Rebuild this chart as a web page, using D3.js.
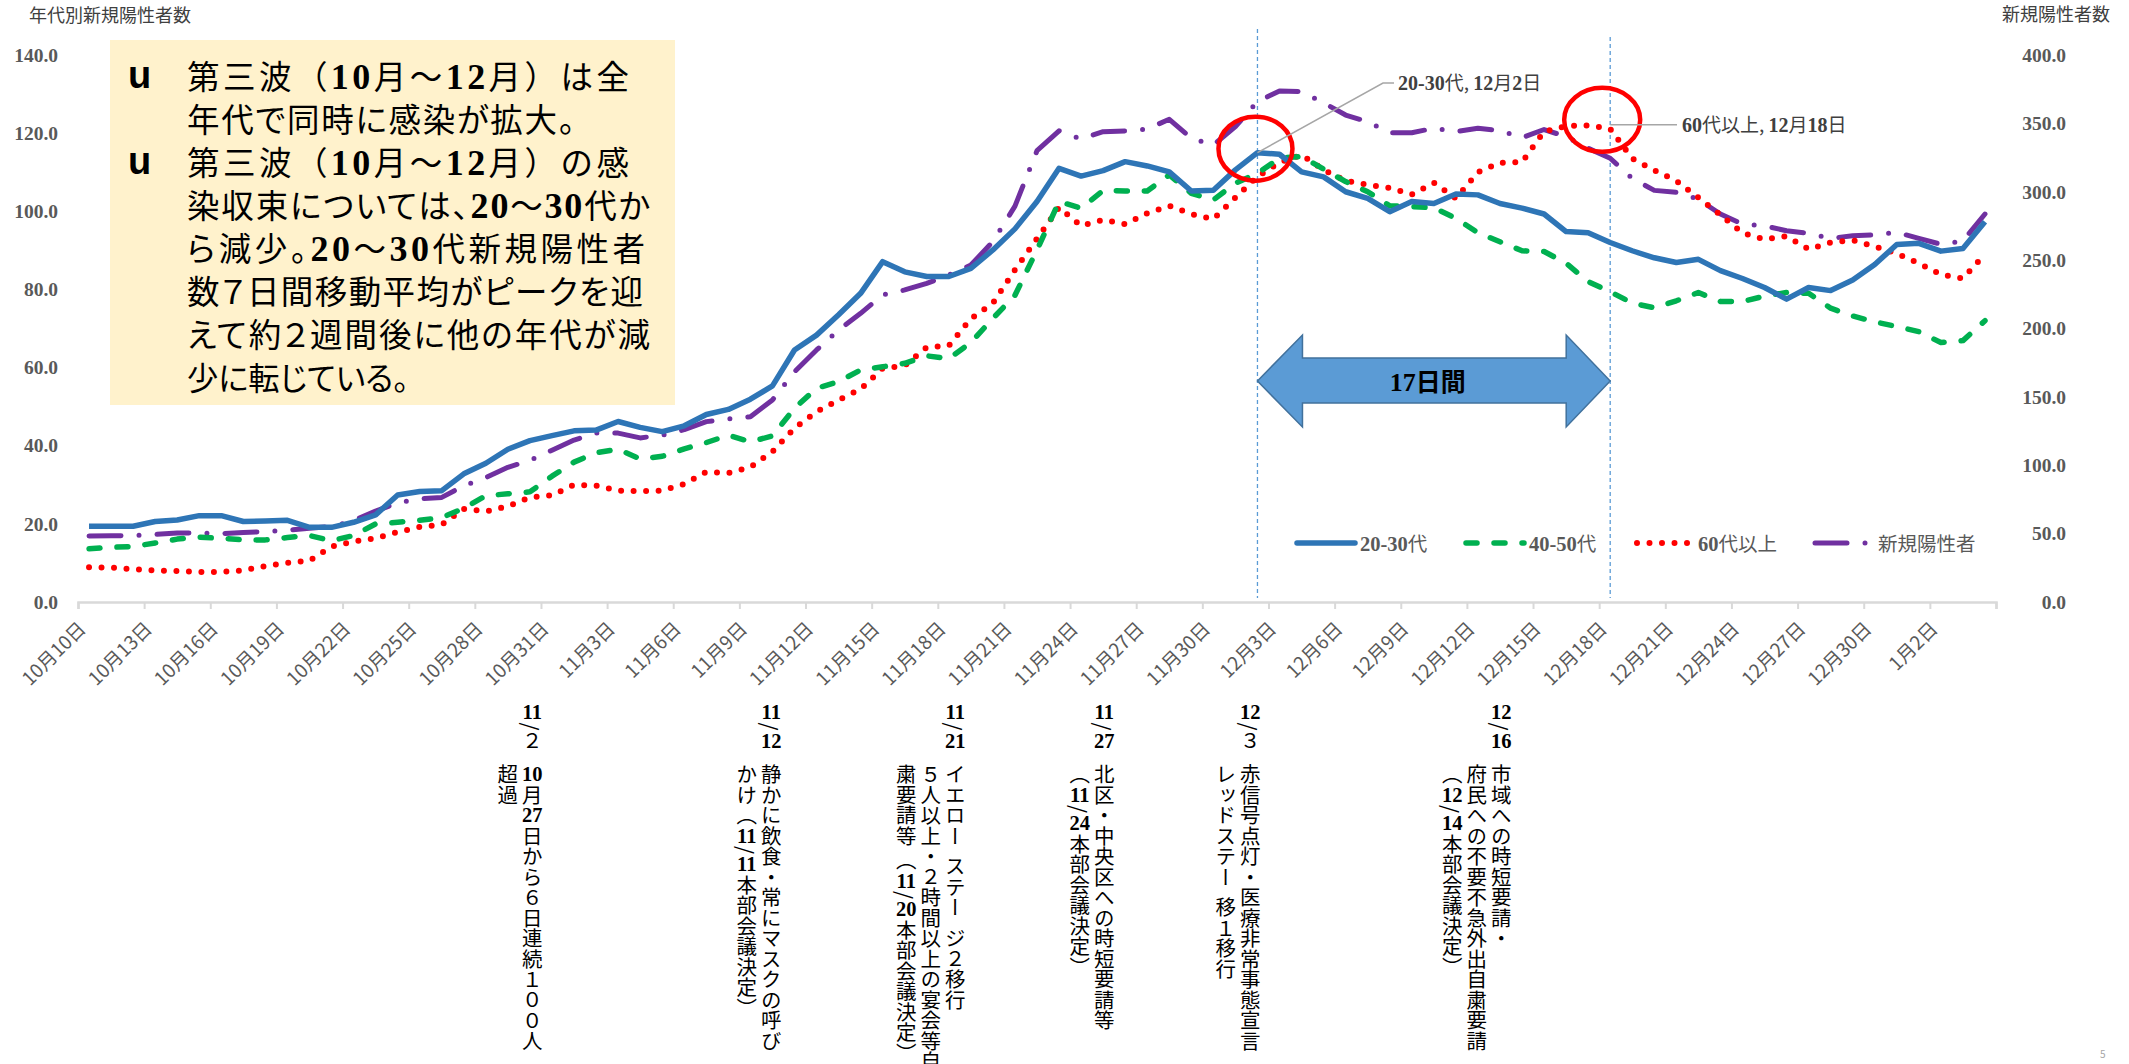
<!DOCTYPE html>
<html>
<head>
<meta charset="utf-8">
<script src="https://cdn.jsdelivr.net/npm/d3@7"></script>
<style>
  body { margin: 0; background: #fff; }
  #chart { position: relative; width: 2129px; height: 1064px; overflow: hidden; background: #fff; }
  .vnote { position: absolute; writing-mode: vertical-rl; font-family: "Noto Sans CJK JP", sans-serif;
           font-size: 20.5px; line-height: 24.5px; color: #000; white-space: pre; }
  .tcy { text-combine-upright: all; font-family: "Liberation Serif", serif; font-weight: bold; }
</style>
</head>
<body>
<div id="chart"></div>
<script>
// categories (7-day moving average, by day)
var days = [
  "10月10日","10月11日","10月12日","10月13日","10月14日","10月15日","10月16日","10月17日","10月18日","10月19日",
  "10月20日","10月21日","10月22日","10月23日","10月24日","10月25日","10月26日","10月27日","10月28日","10月29日",
  "10月30日","10月31日","11月1日","11月2日","11月3日","11月4日","11月5日","11月6日","11月7日","11月8日",
  "11月9日","11月10日","11月11日","11月12日","11月13日","11月14日","11月15日","11月16日","11月17日","11月18日",
  "11月19日","11月20日","11月21日","11月22日","11月23日","11月24日","11月25日","11月26日","11月27日","11月28日",
  "11月29日","11月30日","12月1日","12月2日","12月3日","12月4日","12月5日","12月6日","12月7日","12月8日",
  "12月9日","12月10日","12月11日","12月12日","12月13日","12月14日","12月15日","12月16日","12月17日","12月18日",
  "12月19日","12月20日","12月21日","12月22日","12月23日","12月24日","12月25日","12月26日","12月27日","12月28日",
  "12月29日","12月30日","12月31日","1月1日","1月2日","1月3日","1月4日"
];

var age2030 = [
  19.4,19.4,19.4,20.6,21.0,22.1,22.1,20.6,20.7,20.9,
  19.1,19.1,20.4,22.3,27.4,28.3,28.5,32.8,35.5,39.1,
  41.3,42.6,43.8,44.0,46.2,44.7,43.6,45.1,48.0,49.3,
  51.9,55.3,64.5,68.3,73.5,79.0,87.1,84.5,83.3,83.3,
  85.4,90.1,95.5,102.5,111.0,109.0,110.4,112.7,111.6,110.1,
  105.2,105.4,110.6,115.0,114.6,110.1,108.8,105.0,103.3,99.9,
  102.5,102.0,104.4,104.2,102.0,100.8,99.3,94.8,94.5,92.0,
  89.9,88.1,86.9,87.7,84.8,82.8,80.5,77.5,80.5,79.7,
  82.4,86.4,91.5,91.8,89.8,90.5,97.3
];
var age4050 = [
  13.6,14.0,14.2,15.1,16.1,16.6,16.3,15.9,15.9,16.5,
  17.0,15.7,17.0,20.0,20.4,20.9,21.6,24.0,27.2,27.7,
  28.2,32.2,35.8,38.2,39.1,36.6,37.3,39.2,40.8,42.7,
  41.0,42.5,49.6,54.7,56.4,59.4,60.2,61.1,63.0,62.3,
  66.4,72.6,78.5,90.1,102.5,100.8,105.3,105.2,105.2,109.3,
  104.6,102.9,107.2,109.7,113.6,114.0,110.8,107.6,105.0,101.4,
  101.2,100.9,98.2,94.5,92.2,89.9,89.7,86.7,82.0,79.4,
  76.5,75.3,77.1,79.2,76.9,76.9,78.3,79.2,79.0,75.2,
  73.2,71.7,70.5,69.2,66.4,66.9,72.0
];
var age60 = [
  8.9,8.8,8.4,8.1,7.9,7.7,7.7,8.1,9.2,10.0,
  10.6,14.2,15.5,16.3,17.9,19.2,19.8,23.8,23.2,24.5,
  26.8,27.3,30.0,29.8,28.5,28.4,28.5,30.2,33.3,33.0,
  34.5,38.5,44.5,48.7,51.7,54.5,59.8,60.5,65.2,65.6,
  72.5,76.5,85.0,93.0,101.0,96.3,97.8,96.7,99.5,101.4,
  99.3,98.0,103.5,108.9,112.5,114.4,110.6,107.8,106.8,106.0,
  104.3,107.3,103.3,110.0,112.4,112.6,120.4,121.8,122.0,121.1,
  113.5,110.5,107.8,103.5,99.1,94.5,92.8,93.6,90.3,92.0,
  92.6,91.0,89.2,86.7,83.8,82.8,89.0
];
var totalNew = [
  48.3,48.4,48.6,49.4,50.4,50.5,50.0,50.8,51.5,52.5,
  54.0,55.2,59.5,66.5,72.5,75.4,76.5,85.0,91.0,98.5,
  103.5,111.0,118.4,123.5,123.5,120.0,122.0,126.0,131.9,133.8,
  135.5,147.7,168.4,184.3,198.9,211.1,224.5,228.2,233.0,239.1,
  246.4,263.5,289.5,330.0,344.5,338.6,343.9,344.4,345.9,353.0,
  339.1,334.2,347.6,365.9,373.7,373.2,365.0,356.1,351.2,343.2,
  343.2,346.4,343.9,346.4,344.7,339.5,345.5,340.3,331.8,324.5,
  309.8,301.0,299.6,294.5,283.7,276.4,275.0,271.5,269.6,265.9,
  267.9,268.4,270.3,265.9,261.6,264.0,283.7
];

var seriesNames = ["20-30代", "40-50代", "60代以上", "新規陽性者"];
var leftTicks = [0, 20, 40, 60, 80, 100, 120, 140];
var rightTicks = [0, 50, 100, 150, 200, 250, 300, 350, 400];
var leftTitle = "年代別新規陽性者数";
var rightTitle = "新規陽性者数";

var boxLines = [
  "第三波（10月～12月）は全",
  "年代で同時に感染が拡大。",
  "第三波（10月～12月）の感",
  "染収束については、20～30代か",
  "ら減少。20～30代新規陽性者",
  "数７日間移動平均がピークを迎",
  "えて約２週間後に他の年代が減",
  "少に転じている。"
];
var bulletRows = [0, 2];

var peakLabels = ["20-30代, 12月2日", "60代以上, 12月18日"];
var spanLabel = "17日間";

var noteHeads = ["11/2", "11/12", "11/21", "11/27", "12/3", "12/16"];
var noteBodies = [
  ["10月27日から6日連続１００人", "超過"],
  ["静かに飲食・常にマスクの呼び", "かけ（11/11本部会議決定）"],
  ["イエロー\u2002ステー\u2002ジ2移行", "5人以上・2時間以上の宴会等自", "粛要請等\u2009（11/20本部会議決定）"],
  ["北区・中央区への時短要請等", "（11/24本部会議決定）"],
  ["赤信号点灯・医療非常事態宣言", "レッドステー\u2002移１移行"],
  ["市域への時短要請・", "府民への不要不急外出自粛要請", "（12/14本部会議決定）"]
];

// layout
var W = 2129, H = 1064;
var plotLeft = 78, plotRight = 1996, plotTop = 55, plotBottom = 602;
var noteX = [532, 771, 955, 1104, 1250, 1501];

var container = d3.select("#chart");
var svg = container.append("svg")
  .attr("width", W).attr("height", H)
  .style("position", "absolute").style("left", 0).style("top", 0);

var serif = '"Liberation Serif", serif';
var sans = '"Noto Sans CJK JP", sans-serif';

// append digit runs in bold serif, the rest in sans
function rich(sel, str, numSize, txtSize) {
  str.split(/([0-9][0-9.\-]*)/).filter(function (s) { return s.length; }).forEach(function (part) {
    var isNum = /^[0-9]/.test(part);
    sel.append("tspan")
      .attr("class", isNum ? "num" : "txt")
      .style("font-family", isNum ? serif : sans)
      .style("font-size", (isNum ? numSize : txtSize) + "px")
      .style("font-weight", isNum ? "bold" : "normal")
      .text(part);
  });
  return sel;
}

// scales
var x = d3.scalePoint().domain(days).range([plotLeft, plotRight]).padding(0.5);
var xb = d3.scaleLinear().domain([0, days.length]).range([plotLeft, plotRight]);
var yL = d3.scaleLinear().domain([0, 140]).range([plotBottom, plotTop]);
var yR = d3.scaleLinear().domain([0, 400]).range([plotBottom, plotTop]);

// axis titles
svg.append("text").attr("x", 29).attr("y", 22)
  .style("font-family", sans).style("font-size", "18px").attr("fill", "#404040")
  .text(leftTitle);
svg.append("text").attr("x", 2110).attr("y", 21).attr("text-anchor", "end")
  .style("font-family", sans).style("font-size", "18px").attr("fill", "#404040")
  .text(rightTitle);

// left axis
var gLeft = svg.append("g").attr("transform", "translate(58,0)")
  .call(d3.axisLeft(yL).tickValues(leftTicks).tickFormat(d3.format(".1f")).tickSize(0).tickPadding(0));
gLeft.select(".domain").remove();
gLeft.selectAll("text").style("font-family", serif).style("font-size", "19.5px")
  .style("font-weight", "bold").attr("fill", "#595959");

// right axis
var gRight = svg.append("g").attr("transform", "translate(2066,0)")
  .call(d3.axisRight(yR).tickValues(rightTicks).tickFormat(d3.format(".1f")).tickSize(0).tickPadding(0));
gRight.select(".domain").remove();
gRight.selectAll("text").attr("x", 0).attr("text-anchor", "end")
  .style("font-family", serif).style("font-size", "19.5px")
  .style("font-weight", "bold").attr("fill", "#595959");

// bottom axis
var gBottom = svg.append("g").attr("transform", "translate(0," + plotBottom + ")")
  .call(d3.axisBottom(xb).tickValues(d3.range(0, days.length + 1, 3)).tickSize(7).tickFormat(""));
gBottom.select(".domain").attr("stroke", "#D9D9D9").attr("stroke-width", 2.5);
gBottom.selectAll(".tick line").attr("stroke", "#D9D9D9").attr("stroke-width", 2);

svg.append("g").selectAll("text")
  .data(days.filter(function (d, i) { return i % 3 === 0; }))
  .enter().append("text")
  .attr("transform", function (d) { return "translate(" + (x(d) - 2) + ",630) rotate(-45)"; })
  .attr("text-anchor", "end")
  .style("font-family", sans).style("font-size", "19px").attr("fill", "#595959")
  .text(function (d) { return d; });

// vertical reference lines at the two peaks
var peakA = 53, peakB = 69;
[peakA, peakB].forEach(function (i, k) {
  svg.append("line")
    .attr("x1", x(days[i])).attr("x2", x(days[i]))
    .attr("y1", k === 0 ? 29 : 37).attr("y2", plotBottom - 4)
    .attr("stroke", "#5B9BD5").attr("stroke-width", 1.3).attr("stroke-dasharray", "4 3");
});

// double arrow
var ax0 = x(days[peakA]), ax1 = x(days[peakB]), ay = 381;
var arrowPts = [
  [ax0, ay], [ax0 + 45, ay - 46], [ax0 + 45, ay - 23], [ax1 - 44, ay - 23], [ax1 - 44, ay - 46],
  [ax1, ay], [ax1 - 44, ay + 46], [ax1 - 44, ay + 22], [ax0 + 45, ay + 22], [ax0 + 45, ay + 46]
];
svg.append("polygon")
  .attr("points", arrowPts.map(function (p) { return p.join(","); }).join(" "))
  .attr("fill", "#5B9BD5").attr("stroke", "#41719C").attr("stroke-width", 1.5);
rich(svg.append("text").attr("x", (ax0 + ax1) / 2 - 6).attr("y", ay + 10).attr("text-anchor", "middle")
  .attr("fill", "#000"), spanLabel, 26, 25)
  .selectAll("tspan").style("font-weight", "bold");

// series lines
var lineL = d3.line().x(function (d, i) { return x(days[i]); }).y(function (d) { return yL(d); });
var lineR = d3.line().x(function (d, i) { return x(days[i]); }).y(function (d) { return yR(d); });

var styles = [
  { color: "#2E75B6", width: 5.5, dash: null },
  { color: "#00B050", width: 5.5, dash: "11 17" },
  { color: "#FF0000", width: 6, dash: "0 12.5" },
  { color: "#7030A0", width: 5, dash: "32 18 0 18" }
];

function drawLine(data, gen, st) {
  svg.append("path").datum(data)
    .attr("d", gen)
    .attr("fill", "none")
    .attr("stroke", st.color).attr("stroke-width", st.width)
    .attr("stroke-linecap", st.dash ? "round" : "butt").attr("stroke-linejoin", "round")
    .attr("stroke-dasharray", st.dash);
}
drawLine(totalNew, lineR, styles[3]);
drawLine(age60, lineL, styles[2]);
drawLine(age4050, lineL, styles[1]);
drawLine(age2030, lineL, styles[0]);

// legend
var legendX = [1297, 1466, 1637, 1815];
var legendLen = [58, 58, 56, 58];
legendX.forEach(function (lx, k) {
  var st = styles[k];
  svg.append("line").attr("x1", lx).attr("x2", lx + legendLen[k]).attr("y1", 543).attr("y2", 543)
    .attr("stroke", st.color).attr("stroke-width", st.width)
    .attr("stroke-linecap", "round").attr("stroke-dasharray", st.dash);
  rich(svg.append("text").attr("x", lx + legendLen[k] + 5).attr("y", 551).attr("fill", "#595959"),
    seriesNames[k], 20.5, 19.5);
});

// peak markers and callouts
var pA = [x(days[peakA]), yL(age2030[peakA])];
var pB = [x(days[peakB]), yL(age60[peakB])];
svg.append("ellipse").attr("cx", pA[0] - 2).attr("cy", pA[1] - 4).attr("rx", 37).attr("ry", 32)
  .attr("fill", "none").attr("stroke", "#FF0000").attr("stroke-width", 4.5);
svg.append("ellipse").attr("cx", pB[0] - 8).attr("cy", pB[1] - 9).attr("rx", 38).attr("ry", 32)
  .attr("fill", "none").attr("stroke", "#FF0000").attr("stroke-width", 4.5);

svg.append("polyline")
  .attr("points", [pA, [1383, 83], [1394, 83]].map(function (p) { return p.join(","); }).join(" "))
  .attr("fill", "none").attr("stroke", "#A6A6A6").attr("stroke-width", 1.5);
rich(svg.append("text").attr("x", 1398).attr("y", 90).attr("fill", "#404040"), peakLabels[0], 20, 19);

svg.append("line").attr("x1", pB[0]).attr("x2", 1677).attr("y1", pB[1] - 4).attr("y2", pB[1] - 4)
  .attr("stroke", "#A6A6A6").attr("stroke-width", 1.5);
rich(svg.append("text").attr("x", 1682).attr("y", pB[1] + 3).attr("fill", "#404040"), peakLabels[1], 20, 19);

// text box
svg.append("rect").attr("x", 110).attr("y", 40).attr("width", 565).attr("height", 365).attr("fill", "#FFF2CC");
var lineY = [77, 120, 163, 206, 249, 292, 335, 378];
var lineW = [442, 388, 442, 463, 458, 456, 463, 222];
boxLines.forEach(function (s, k) {
  var t = svg.append("text").attr("x", 187).attr("y", lineY[k] + 12).attr("fill", "#000");
  // proportional kana, but keep full-width brackets where the slide has them
  if (s.indexOf("（") < 0) t.style("font-feature-settings", '"palt"');
  rich(t, s, 36, 32.5);
  // fit each line to its width in the slide: shrink if too long, open the spacing if too short
  var natural = t.node().getComputedTextLength();
  if (natural > lineW[k]) {
    var f = Math.max(0.88, lineW[k] / natural);
    t.selectAll("tspan.num").style("font-size", (36 * f) + "px");
    t.selectAll("tspan.txt").style("font-size", (32.5 * f) + "px");
  } else {
    t.attr("textLength", lineW[k]).attr("lengthAdjust", "spacing");
  }
});
bulletRows.forEach(function (k) {
  svg.append("text").attr("x", 128).attr("y", lineY[k] + 11).attr("fill", "#000")
    .style("font-family", '"Liberation Sans", sans-serif').style("font-size", "38px").style("font-weight", "bold")
    .text("u");
});

// page number
svg.append("text").attr("x", 2100).attr("y", 1058).style("font-family", sans).style("font-size", "10px")
  .attr("fill", "#A6A6A6").text("5");

// vertical notes under the axis
function fillVertical(el, str) {
  str.split(/([0-9]+)/).filter(function (s) { return s.length; }).forEach(function (part) {
    if (/^[0-9]{2,}$/.test(part)) {
      el.append("span").attr("class", "tcy").text(part);
    } else if (/^[0-9]$/.test(part)) {
      el.append("span").text(String.fromCharCode(0xFF10 + (+part)));
    } else {
      el.append("span").text(part);
    }
  });
}

noteHeads.forEach(function (head, k) {
  var right = W - noteX[k] - 12.25;
  var h = container.append("div").attr("class", "vnote")
    .style("right", right + "px").style("top", "702px");
  fillVertical(h.append("div"), head);

  var b = container.append("div").attr("class", "vnote")
    .style("right", right + "px").style("top", "764px");
  noteBodies[k].forEach(function (col) {
    fillVertical(b.append("div"), col);
  });
});
</script>
</body>
</html>
